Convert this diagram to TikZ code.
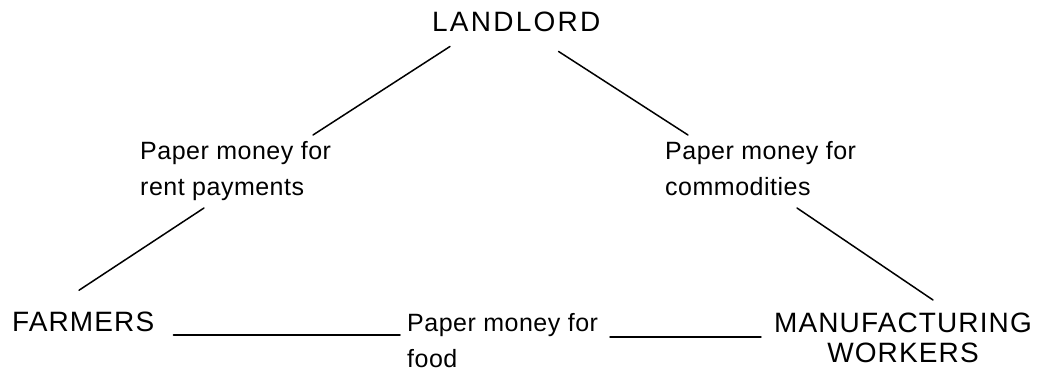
\documentclass[tikz,border=0pt]{standalone}
\usepackage{fontspec}
\setmainfont{Liberation Sans}
\newfontfamily\capsfont[LetterSpace=4]{Liberation Sans}
\newfontfamily\capswide[LetterSpace=8]{Liberation Sans}
\newfontfamily\labfont[LetterSpace=2]{Liberation Sans}
\tikzset{
  caps/.style={inner sep=0pt, font=\capsfont\fontsize{28}{30}\selectfont},
  lab/.style={inner sep=0pt, anchor=north west, align=left, font=\labfont\fontsize{25}{36}\selectfont},
  link/.style={line width=1.5pt, line cap=round}
}
\begin{document}
\begin{tikzpicture}[x=1pt, y=-1pt]
\useasboundingbox (0,0) rectangle (1039,371);
\node[caps, anchor=base west, font=\capswide\fontsize{28}{30}\selectfont] (landlord) at (432,32) {LANDLORD};
\node[caps, anchor=base west] (farmers) at (12,332) {FARMERS};
\node[caps, anchor=north, align=center] (mfg) at (903,313) {MANUFACTURING\\WORKERS};
\node[lab] (llab) at (140,141) {Paper money for\\rent payments};
\node[lab] (rlab) at (665,141) {Paper money for\\commodities};
\node[lab] (blab) at (407,313) {Paper money for\\food};
% left side
\draw[link] ([shift={(18,14)}]landlord.south west) -- ([shift={(173,-6)}]llab.north west);
\draw[link] ([shift={(64,67)}]llab.north west) -- ([shift={(67,-22)}]farmers.north west);
% right side
\draw[link] ([shift={(-42,19)}]landlord.south east) -- ([shift={(23,-6)}]rlab.north west);
\draw[link] ([shift={(132,67)}]rlab.north west) -- ([shift={(30,-13)}]mfg.north);
% bottom
\draw[link] ([shift={(19,3)}]farmers.base east) -- ([shift={(-7,22)}]blab.north west);
\draw[link] ([shift={(203,24)}]blab.north west) -- ([shift={(-13,24)}]mfg.north west);
\end{tikzpicture}
\end{document}
